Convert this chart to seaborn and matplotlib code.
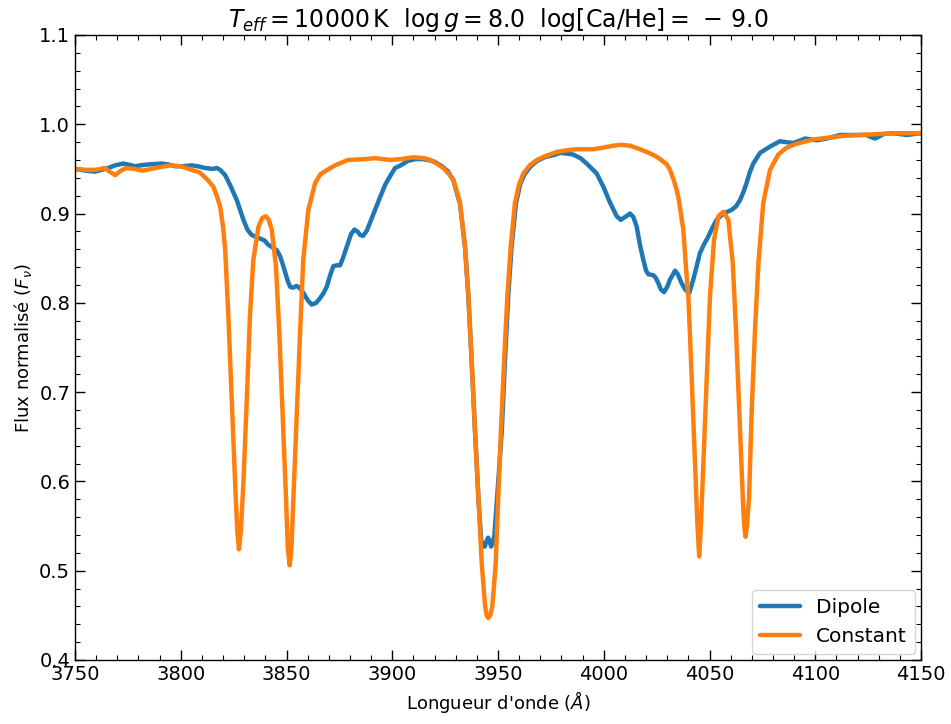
import numpy as np
import pandas as pd
import matplotlib
matplotlib.use("Agg")
import matplotlib.pyplot as plt
from matplotlib.ticker import MultipleLocator, AutoMinorLocator
import seaborn as sns

# ---------------- data ----------------
const_wl = [3750, 3755, 3760, 3764, 3767, 3769, 3771, 3774, 3778, 3782, 3788, 3795, 3800, 3805,
            3809, 3813, 3815.4, 3817, 3818.6, 3820, 3821, 3822.5, 3824.1, 3825.7, 3826.7, 3827.5,
            3828.4, 3829.6, 3831.2, 3832.7, 3834.3, 3836.7, 3838.5, 3840.2, 3841.6, 3843.0, 3845.0,
            3846.6, 3848.2, 3849.8, 3850.6, 3851.5, 3852.3, 3853.2, 3854.8, 3856.4, 3857.9, 3860.3,
            3863.5, 3866, 3870, 3873, 3879, 3887, 3892, 3899, 3904, 3910, 3915, 3918, 3921, 3924.1,
            3926.5, 3928.9, 3932.0, 3934.4, 3936.0, 3937.6, 3939.1, 3940.7, 3942.3, 3943.9, 3944.6,
            3945.4, 3946.3, 3947.3, 3948.9, 3950.1, 3951.4, 3952.8, 3954.4, 3956.0, 3958.0, 3960,
            3962.0, 3965, 3968.3, 3972, 3977.8, 3983, 3987.2, 3995, 4000, 4004.5, 4008, 4012.4, 4016,
            4020.3, 4024, 4026.6, 4029.8, 4031.3, 4033, 4034.5, 4035.5, 4037.6, 4039, 4040.0, 4041.6,
            4043.1, 4044.2, 4045.1, 4046.0, 4047.1, 4048.7, 4050.2, 4052.1, 4054.2, 4056.5, 4058.9,
            4061.0, 4062.5, 4064.1, 4065.7, 4066.4, 4067.0, 4067.7, 4068.7, 4069.9, 4071.5, 4073.1,
            4075.4, 4078.6, 4082.5, 4086, 4089.6, 4094, 4099.1, 4106, 4113.3, 4121, 4129, 4140, 4150]
const_flux = [0.950, 0.949, 0.949, 0.951, 0.946, 0.943, 0.947, 0.951, 0.950, 0.948, 0.951, 0.954, 0.953, 0.949,
              0.946, 0.937, 0.930, 0.920, 0.908, 0.885, 0.859, 0.785, 0.691, 0.598, 0.545, 0.524,
              0.545, 0.598, 0.691, 0.785, 0.848, 0.885, 0.895, 0.897, 0.893, 0.882, 0.841,
              0.766, 0.673, 0.579, 0.525, 0.506, 0.525, 0.579, 0.673, 0.766, 0.848, 0.904,
              0.934, 0.944, 0.950, 0.954, 0.960, 0.961, 0.962, 0.960, 0.961, 0.963, 0.962, 0.960, 0.956, 0.951,
              0.945, 0.938, 0.912, 0.863, 0.807, 0.732, 0.658, 0.583, 0.508, 0.460, 0.450,
              0.447, 0.450, 0.460, 0.508, 0.583, 0.658, 0.732, 0.807, 0.863, 0.912, 0.933,
              0.945, 0.954, 0.960, 0.964, 0.969, 0.971, 0.972, 0.972, 0.974, 0.976, 0.977, 0.976, 0.973,
              0.969, 0.965, 0.961, 0.955, 0.949, 0.938, 0.926, 0.915, 0.882, 0.835, 0.807, 0.714,
              0.621, 0.555, 0.516, 0.555, 0.621, 0.714, 0.807, 0.870, 0.897, 0.902, 0.893,
              0.844, 0.770, 0.676, 0.583, 0.550, 0.538, 0.550, 0.583, 0.677, 0.770, 0.844,
              0.912, 0.949, 0.966, 0.973, 0.977, 0.980, 0.983, 0.985, 0.987, 0.988, 0.989, 0.990, 0.990]

dipole_wl = [3750, 3755, 3759.5, 3765.7, 3769, 3772.8, 3775, 3778.4, 3781, 3784.7, 3791, 3794, 3797.3,
             3801, 3805.2, 3808, 3811.5, 3815, 3817, 3818.6, 3821, 3823.3, 3826.5, 3829.6, 3831.5,
             3833.5, 3837.5, 3839.5, 3841.4, 3845.4, 3847, 3848.5, 3850.5, 3851.7, 3853, 3854.8,
             3856.5, 3858, 3860, 3861.9, 3864, 3865.8, 3867.5, 3869, 3870.5, 3872.1, 3873.7, 3875.3,
             3876.8, 3878.5, 3880.5, 3882.1, 3883.5, 3884.8, 3886.2, 3888, 3890, 3891.8, 3894, 3896.6,
             3898, 3901.3, 3904, 3907.4, 3911, 3914, 3917, 3920, 3923.5, 3926.4, 3928.9, 3932.0,
             3934.4, 3936.0, 3937.6, 3939.1, 3940.7, 3942.0, 3942.8, 3943.7, 3944.7, 3945.3, 3945.9,
             3946.7, 3947.4, 3948.3, 3949.6, 3951.8, 3953.2, 3954.8, 3956.4, 3958.5, 3960.5, 3962.5,
             3965.5, 3968.5, 3972, 3977, 3979.3, 3983, 3985.6, 3989, 3991.9, 3994.5, 3996.6, 3999.8,
             4003, 4006.1, 4008, 4010, 4012.4, 4014, 4015.6, 4017, 4018.7, 4020, 4021.1, 4023.4,
             4024.6, 4025.8, 4027, 4028.5, 4030, 4031.3, 4033.7, 4035, 4036.8, 4038.5, 4040.4, 4042.3,
             4044, 4045.5, 4047.5, 4049.4, 4051.5, 4053.4, 4056.5, 4058.5, 4060.4, 4062.5, 4064.4,
             4066, 4067.5, 4069, 4070.7, 4073.9, 4078.6, 4083.3, 4086, 4089.6, 4092, 4095.2, 4098,
             4100.7, 4105.4, 4111.7, 4118, 4124.3, 4126, 4128.2, 4130, 4132.2, 4136.9, 4143.2, 4150]
dipole_flux = [0.950, 0.948, 0.947, 0.951, 0.954, 0.956, 0.955, 0.953, 0.954, 0.955, 0.956, 0.955, 0.953,
               0.953, 0.954, 0.953, 0.951, 0.950, 0.951, 0.949, 0.943, 0.932, 0.915, 0.893, 0.882,
               0.876, 0.872, 0.870, 0.865, 0.859, 0.852, 0.841, 0.825, 0.818, 0.817, 0.819,
               0.816, 0.811, 0.803, 0.798, 0.800, 0.805, 0.811, 0.818, 0.830, 0.841, 0.842, 0.842,
               0.851, 0.863, 0.877, 0.882, 0.880, 0.876, 0.875, 0.881, 0.893, 0.904, 0.917, 0.932,
               0.938, 0.951, 0.954, 0.959, 0.961, 0.961, 0.960, 0.958, 0.953, 0.947, 0.937, 0.911,
               0.862, 0.806, 0.731, 0.657, 0.582, 0.535, 0.528, 0.527, 0.534, 0.537, 0.534,
               0.527, 0.530, 0.540, 0.583, 0.658, 0.732, 0.807, 0.863, 0.912, 0.933, 0.944,
               0.953, 0.959, 0.963, 0.966, 0.968, 0.967, 0.966, 0.962, 0.956, 0.950, 0.945, 0.930,
               0.912, 0.897, 0.893, 0.896, 0.900, 0.896, 0.885, 0.866, 0.848, 0.836, 0.832, 0.831,
               0.828, 0.822, 0.815, 0.812, 0.818, 0.826, 0.836, 0.832, 0.822, 0.815, 0.811, 0.826,
               0.842, 0.856, 0.866, 0.874, 0.885, 0.893, 0.900, 0.902, 0.904, 0.908, 0.915,
               0.924, 0.934, 0.946, 0.956, 0.968, 0.975, 0.981, 0.980, 0.979, 0.981, 0.984, 0.983,
               0.982, 0.984, 0.988, 0.988, 0.988, 0.986, 0.984, 0.986, 0.989, 0.990, 0.988, 0.990]

series_names = ["Dipole", "Constant"]
series_colors = ["#1f77b4", "#ff7f0e"]

df = pd.concat([
    pd.DataFrame({"wl": dipole_wl, "flux": dipole_flux, "model": series_names[0]}),
    pd.DataFrame({"wl": const_wl, "flux": const_flux, "model": series_names[1]}),
], ignore_index=True)

# ---------------- plot ----------------
sns.set_style("ticks")
plt.rcParams["font.family"] = ["DejaVu Sans"]
plt.rcParams["mathtext.fontset"] = "dejavusans"
plt.rcParams["text.color"] = "black"
plt.rcParams["axes.labelcolor"] = "black"

fig = plt.figure(figsize=(9.51, 7.24), dpi=100)
ax = fig.add_axes([0.0789, 0.0884, 0.8896, 0.8633])

sns.lineplot(data=df, x="wl", y="flux", hue="model", palette=series_colors,
             hue_order=series_names, linewidth=3.2, estimator=None, sort=False, ax=ax)

ax.set_xlim(3750, 4150)
ax.set_ylim(0.4, 1.1)
ax.xaxis.set_major_locator(MultipleLocator(50))
ax.yaxis.set_major_locator(MultipleLocator(0.1))
ax.xaxis.set_minor_locator(AutoMinorLocator(5))
ax.yaxis.set_minor_locator(AutoMinorLocator(5))
ax.tick_params(which="both", direction="in", top=True, right=True, colors="black")
ax.tick_params(which="major", length=7, width=1, labelsize=14)
ax.tick_params(which="minor", length=3.5, width=0.8)
for s in ax.spines.values():
    s.set_color("black")
    s.set_linewidth(1)

ax.set_xlabel(r"Longueur d'onde ($\AA$)", fontsize=13)
ax.set_ylabel(r"Flux normalisé ($F_\nu$)", fontsize=13)
ax.set_title(r"$T_{eff} = 10000\,\mathrm{K}$  $\log g = 8.0$  $\log[\mathrm{Ca/He}] = \,-\,9.0$",
             fontsize=17, color="black")

handles, labels = ax.get_legend_handles_labels()
ax.legend(handles, labels, loc="lower right", fontsize=14.5, frameon=True, borderaxespad=0.3)

fig.savefig("out.png", dpi=100)
